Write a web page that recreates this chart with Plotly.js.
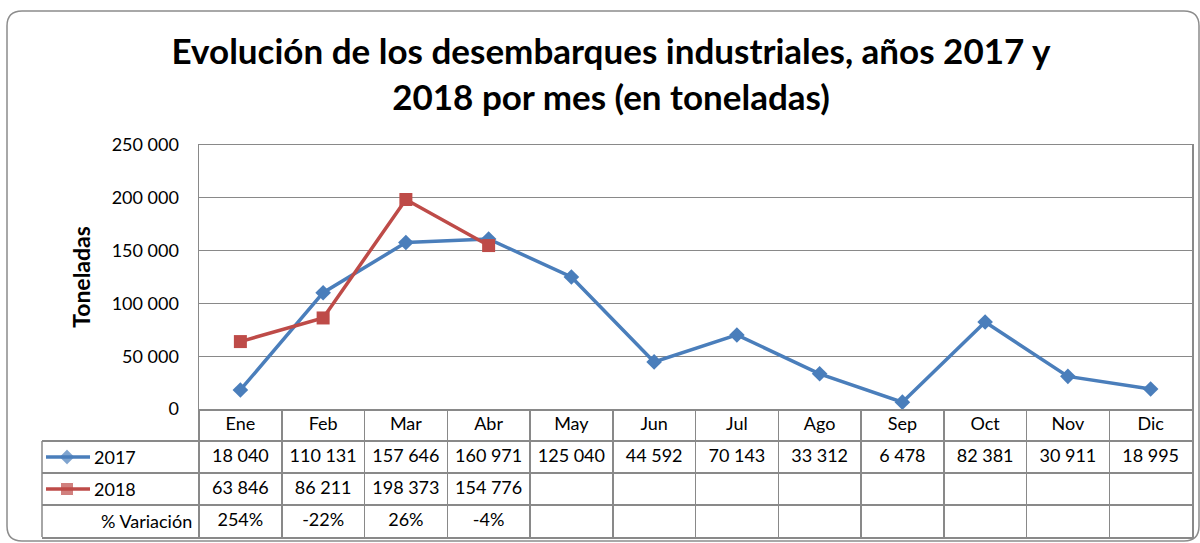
<!DOCTYPE html>
<html>
<head>
<meta charset="utf-8">
<script src="https://cdn.plot.ly/plotly-3.0.1.min.js"></script>
<style>
html, body { margin: 0; padding: 0; background: #fff; }
#chart { width: 1200px; height: 543px; }
</style>
</head>
<body>
<div id="chart"></div>
<script>
// data
var months = ['Ene', 'Feb', 'Mar', 'Abr', 'May', 'Jun', 'Jul', 'Ago', 'Sep', 'Oct', 'Nov', 'Dic'];
var values2017 = [18040, 110131, 157646, 160971, 125040, 44592, 70143, 33312, 6478, 82381, 30911, 18995];
var values2018 = [63846, 86211, 198373, 154776];
var variation = ['254%', '-22%', '26%', '-4%'];
var yTicks = [0, 50000, 100000, 150000, 200000, 250000];

var blue = '#4A7EBB';
var red = '#BE4B48';
var gridGray = '#898989';
var fontFam = 'Lato, "Liberation Sans", sans-serif';
var txtSize = 18;

// page geometry in pixels
var W = 1200, H = 543, L = 42, R = 8, T = 145, B = 6;
var pw = W - L - R, ph = H - T - B;
var plotLeft = 199, tableTop = 409;
var cellW = (W - R - plotLeft) / months.length;
function fx(p) { return (p - L) / pw; }
function fy(p) { return 1 - (p - T) / ph; }
function px2x(p) { return -0.5 - (plotLeft - p) / cellW; }
function fmt(v) { return String(v).replace(/\B(?=(\d{3})+(?!\d))/g, ' '); }

var idx = months.map(function (m, i) { return i; });
var bound = months.map(function (m, i) { return i - 0.5; }).concat([months.length - 0.5]);

function tableRow(xs, row, texts) {
    return {
        x: xs, y: xs.map(function () { return row; }), text: texts,
        mode: 'text', type: 'scatter', xaxis: 'x2', yaxis: 'y2', hoverinfo: 'skip',
        textfont: { family: fontFam, size: txtSize, color: '#000' }
    };
}

var traces = [
    {
        x: months, y: values2017, name: '2017', type: 'scatter', mode: 'lines+markers',
        line: { color: blue, width: 3.5 },
        marker: { symbol: 'diamond', size: 12, color: blue },
        cliponaxis: false, hoverinfo: 'skip'
    },
    {
        x: months.slice(0, values2018.length), y: values2018, name: '2018', type: 'scatter', mode: 'lines+markers',
        line: { color: red, width: 3.5 },
        marker: { symbol: 'square', size: 13, color: red },
        cliponaxis: false, hoverinfo: 'skip'
    },
    // data table rows
    tableRow(idx, 0.5, months),
    tableRow(idx, 1.5, values2017.map(fmt)),
    tableRow(idx.slice(0, values2018.length), 2.5, values2018.map(fmt)),
    tableRow(idx.slice(0, variation.length), 3.5, variation),
    // legend keys inside the table
    {
        x: [px2x(67), px2x(67)], y: [1.5, 2.5], mode: 'markers', type: 'scatter',
        xaxis: 'x2', yaxis: 'y2', hoverinfo: 'skip', cliponaxis: false,
        marker: { symbol: ['diamond', 'square'], size: [12, 13], color: [blue, red] }
    }
];

var shapes = [
    // outer chart frame
    {
        type: 'path', xref: 'paper', yref: 'paper', layer: 'below',
        path: 'M ' + fx(1184) + ',' + fy(11) + ' L ' + fx(22) + ',' + fy(11) +
              ' Q ' + fx(7) + ',' + fy(11) + ' ' + fx(7) + ',' + fy(26) +
              ' L ' + fx(7) + ',' + fy(526) +
              ' Q ' + fx(7) + ',' + fy(541) + ' ' + fx(22) + ',' + fy(541) +
              ' L ' + fx(1184) + ',' + fy(541) +
              ' Q ' + fx(1199) + ',' + fy(541) + ' ' + fx(1199) + ',' + fy(526) +
              ' L ' + fx(1199) + ',' + fy(26) +
              ' Q ' + fx(1199) + ',' + fy(11) + ' ' + fx(1184) + ',' + fy(11),
        line: { color: '#8c8c8c', width: 1.5 }
    },
    // left edge of the series label column
    {
        type: 'line', xref: 'paper', yref: 'y2', x0: 0, x1: 0, y0: 1, y1: 4,
        line: { color: gridGray, width: 1.5 }
    },
    // legend key lines
    {
        type: 'line', xref: 'paper', yref: 'paper', x0: fx(46), x1: fx(90), y0: fy(457), y1: fy(457),
        line: { color: blue, width: 3.5 }
    },
    {
        type: 'line', xref: 'paper', yref: 'paper', x0: fx(46), x1: fx(90), y0: fy(489), y1: fy(489),
        line: { color: red, width: 3.5 }
    }
];

var annotations = [
    { text: '2017', xref: 'paper', yref: 'y2', x: fx(92), y: 1.5, xanchor: 'left', yanchor: 'middle', showarrow: false },
    { text: '2018', xref: 'paper', yref: 'y2', x: fx(92), y: 2.5, xanchor: 'left', yanchor: 'middle', showarrow: false },
    { text: '% Variación', xref: 'paper', yref: 'y2', x: fx(194), y: 3.5, xanchor: 'right', yanchor: 'middle', showarrow: false }
];
annotations.forEach(function (a) { a.font = { family: fontFam, size: txtSize, color: '#000' }; });

var layout = {
    width: W, height: H,
    margin: { l: L, r: R, t: T, b: B },
    paper_bgcolor: '#fff', plot_bgcolor: '#fff',
    showlegend: false,
    separators: ', ',
    font: { family: fontFam, size: txtSize, color: '#000' },
    title: {
        text: 'Evolución de los desembarques industriales, años 2017 y<br>2018 por mes (en toneladas)',
        font: { family: fontFam, size: 35, weight: 700, color: '#000' },
        xref: 'paper', x: fx(611), xanchor: 'center',
        yref: 'container', y: 1 - 64 / H, yanchor: 'middle'
    },
    xaxis: {
        type: 'category', domain: [fx(plotLeft), 1], range: [-0.5, months.length - 0.5],
        showticklabels: false, ticks: '', showgrid: false, zeroline: false,
        showline: true, mirror: true, linecolor: gridGray, linewidth: 1.5, anchor: 'y'
    },
    yaxis: {
        domain: [fy(tableTop), 1], range: [0, 250000], tickvals: yTicks, tickformat: ',d',
        showgrid: true, gridcolor: gridGray, gridwidth: 1.3, zeroline: false,
        showline: true, mirror: true, linecolor: gridGray, linewidth: 1.5,
        ticks: '', ticklabelstandoff: 15,
        tickfont: { family: fontFam, size: txtSize, color: '#000' },
        title: { text: 'Toneladas', font: { family: fontFam, size: 23, weight: 700, color: '#000' }, standoff: 14 },
        anchor: 'x'
    },
    xaxis2: {
        domain: [0, 1], range: [px2x(L), months.length - 0.5], anchor: 'y2',
        tickvals: bound, showticklabels: false, ticks: '',
        showgrid: true, gridcolor: gridGray, gridwidth: 1.5, zeroline: false,
        showline: true, linecolor: gridGray, linewidth: 1.5
    },
    yaxis2: {
        domain: [0, fy(tableTop)], range: [4, 0], anchor: 'x2', side: 'right',
        tickvals: [1, 2, 3], showticklabels: false, ticks: '',
        showgrid: true, gridcolor: gridGray, gridwidth: 1.5, zeroline: false,
        showline: true, linecolor: gridGray, linewidth: 1.5
    },
    shapes: shapes,
    annotations: annotations
};

Plotly.newPlot('chart', traces, layout, { staticPlot: true, displayModeBar: false });
</script>
</body>
</html>
